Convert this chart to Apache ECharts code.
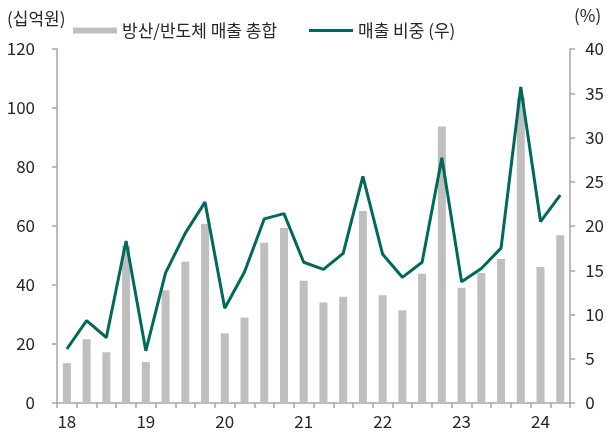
<!DOCTYPE html>
<html>
<head>
<meta charset="utf-8">
<script src="https://cdn.jsdelivr.net/npm/echarts@6/dist/echarts.min.js"></script>
<style>
  html, body { margin: 0; padding: 0; background: #fff; }
  #chart { width: 607px; height: 432px; }
</style>
</head>
<body>
<div id="chart"></div>
<script>
// 분기 (18.1Q ~ 24.2Q)
var quarters = [
  '18.1Q','18.2Q','18.3Q','18.4Q',
  '19.1Q','19.2Q','19.3Q','19.4Q',
  '20.1Q','20.2Q','20.3Q','20.4Q',
  '21.1Q','21.2Q','21.3Q','21.4Q',
  '22.1Q','22.2Q','22.3Q','22.4Q',
  '23.1Q','23.2Q','23.3Q','23.4Q',
  '24.1Q','24.2Q'
];
// 방산/반도체 매출 총합 (십억원)
var salesTotal = [
  13.5, 21.6, 17.2, 53.2,
  13.9, 38.2, 47.9, 60.7,
  23.6, 29.0, 54.3, 59.3,
  41.4, 34.1, 36.0, 65.1,
  36.5, 31.4, 43.8, 93.7,
  39.1, 44.1, 48.8, 103.5,
  46.1, 56.9
];
// 매출 비중 (%)
var salesShare = [
  6.1, 9.3, 7.4, 18.3,
  5.9, 14.7, 19.2, 22.7,
  10.7, 14.8, 20.8, 21.4,
  15.9, 15.1, 16.9, 25.6,
  16.8, 14.2, 15.9, 27.7,
  13.7, 15.2, 17.5, 35.7,
  20.5, 23.5
];

var FONT = '"Noto Sans CJK KR", "Noto Sans", sans-serif';
var axisColor = '#a6a6a6';
var textColor = '#262626';
var lineColor = '#00695c';

var myChart = echarts.init(document.getElementById('chart'), null, { renderer: 'canvas' });

myChart.setOption({
  animation: false,
  textStyle: { fontFamily: FONT },
  grid: { left: 57, right: 36, top: 49, bottom: 29 },
  graphic: [
    { type: 'text', left: 7, top: 10, style: { text: '(십억원)', fontSize: 17, fontFamily: FONT, fill: textColor } },
    { type: 'text', left: 574, top: 7, style: { text: '(%)', fontSize: 17, fontFamily: FONT, fill: textColor } }
  ],
  legend: [
    {
      left: 73, top: 22, padding: 0,
      itemWidth: 44, itemHeight: 6, itemGap: 0,
      textStyle: { fontSize: 17, color: textColor, fontFamily: FONT },
      data: [{ name: '방산/반도체 매출 총합', icon: 'rect' }]
    },
    {
      left: 309, top: 22, padding: 0,
      itemWidth: 44, itemHeight: 3, itemGap: 0,
      textStyle: { fontSize: 17, color: textColor, fontFamily: FONT },
      data: [{ name: '매출 비중 (우)', icon: 'rect', itemStyle: { color: lineColor } }]
    }
  ],
  xAxis: {
    type: 'category',
    data: quarters,
    boundaryGap: true,
    axisLine: { lineStyle: { color: axisColor, width: 1.5 } },
    axisTick: { show: true, interval: 0, length: 5, lineStyle: { color: axisColor, width: 1.5 } },
    axisLabel: {
      interval: 3,
      margin: 10,
      fontSize: 17,
      color: textColor,
      formatter: function (v) { return v.slice(0, 2); }
    }
  },
  yAxis: [
    {
      type: 'value', min: 0, max: 120, interval: 20,
      axisLine: { show: true, lineStyle: { color: axisColor, width: 1.5 } },
      axisTick: { show: true, length: 5, lineStyle: { color: axisColor, width: 1.5 } },
      axisLabel: { fontSize: 17, color: textColor, margin: 22 },
      splitLine: { show: false }
    },
    {
      type: 'value', min: 0, max: 40, interval: 5, position: 'right',
      axisLine: { show: true, lineStyle: { color: axisColor, width: 1.5 } },
      axisTick: { show: true, length: 5, lineStyle: { color: axisColor, width: 1.5 } },
      axisLabel: { fontSize: 17, color: textColor, margin: 15 },
      splitLine: { show: false }
    }
  ],
  series: [
    {
      name: '방산/반도체 매출 총합',
      type: 'bar',
      yAxisIndex: 0,
      barWidth: 8,
      itemStyle: { color: '#bfbfbf' },
      data: salesTotal
    },
    {
      name: '매출 비중 (우)',
      type: 'line',
      yAxisIndex: 1,
      symbol: 'none',
      lineStyle: { color: lineColor, width: 3 },
      itemStyle: { color: lineColor },
      data: salesShare
    }
  ]
});
</script>
</body>
</html>
